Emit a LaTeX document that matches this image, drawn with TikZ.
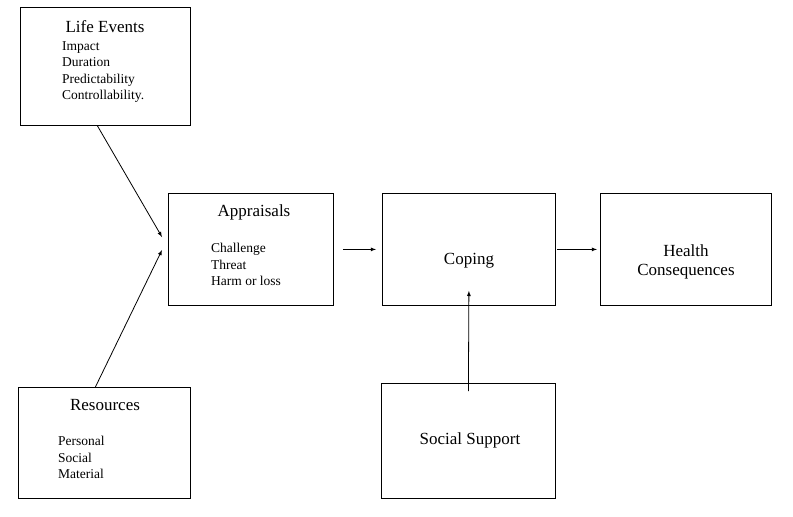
\documentclass[tikz,border=0pt]{standalone}
\usepackage{fontspec}
\setmainfont{Liberation Serif}
\usepackage{tikz}
\begin{document}
\begin{tikzpicture}[x=1pt,y=-1pt,
  box/.style={draw, thick, minimum width=#1, anchor=north west, inner sep=0pt},
  title/.style={font=\fontsize{17}{19}\selectfont},
  items/.style={font=\fontsize{13.5}{16.5}\selectfont, align=left, anchor=north west, inner sep=0pt},
  link/.style={thick, -latex}]
\useasboundingbox (0,0) rectangle (793,517);
% Boxes
\node[box=170pt, minimum height=118pt] (life) at (20,7) {};
\node[box=165pt, minimum height=112pt] (appr) at (168,193) {};
\node[box=173pt, minimum height=112pt] (cope) at (382,193) {};
\node[box=171pt, minimum height=112pt] (health) at (600,193) {};
\node[box=172pt, minimum height=111pt] (res) at (18,387) {};
\node[box=174pt, minimum height=115pt] (soc) at (381,383) {};
% Texts
\node[title] (lifet) at (105,27) {Life Events};
\node[items] (lifei) at (62,41) {Impact\\Duration\\Predictability\\Controllability.};
\node[title] (apprt) at (254,212) {Appraisals};
\node[items] (appri) at (211,243) {Challenge\\Threat\\Harm or loss};
\node[title] (copet) at (469,261) {Coping};
\node[title, align=center] (healtht) at (686,262) {Health\\Consequences};
\node[title] (rest) at (105,405) {Resources};
\node[items] (resi) at (58,436) {Personal\\Social\\Material};
\node[title] (soct) at (470,440) {Social Support};
% Connectors
\coordinate (lifeend) at (162,237);
\coordinate (resend) at (162,250);
\draw[link] ([xshift=-8pt]life.south) -- (lifeend);
\draw[link] ([xshift=-9pt]res.north) -- (resend);
\draw[link] ([xshift=9pt]appr.east) -- ([xshift=-6pt]cope.west);
\draw[link] ([xshift=1pt]cope.east) -- ([xshift=-3pt]health.west);
\draw[link] ([yshift=-8pt]soc.north) -- ([yshift=15pt]cope.south);
\end{tikzpicture}
\end{document}
